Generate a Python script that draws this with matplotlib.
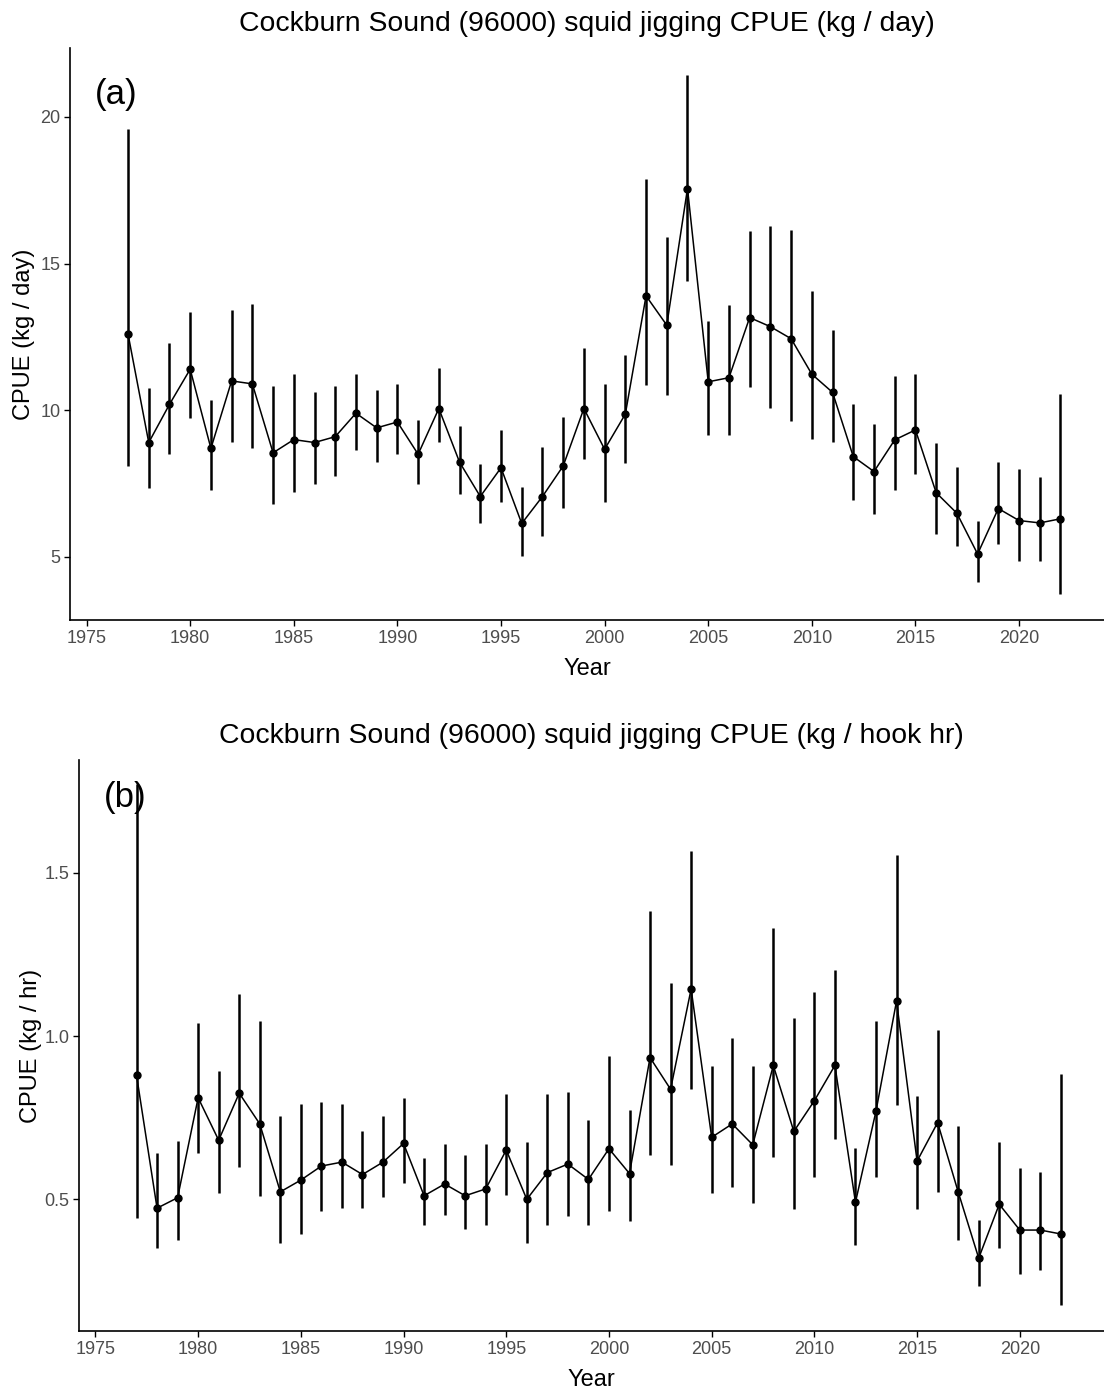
#!/usr/bin/env python3
"""Cockburn Sound squid jigging CPUE, two stacked panels."""

import matplotlib
matplotlib.use('Agg')
import matplotlib.pyplot as plt

plt.rcParams.update({
    'font.family': ['Liberation Sans', 'DejaVu Sans'],
    'font.size': 10,
})

years = list(range(1977, 2023))

# panel (a): kg / day
cpue_day = [12.6, 8.9, 10.2, 11.4, 8.7, 11.0, 10.9, 8.55, 9.0, 8.9, 9.1, 9.9, 9.4, 9.6,
            8.5, 10.06, 8.23, 7.06, 8.04, 6.14, 7.06, 8.1, 10.06, 8.67, 9.87, 13.9, 12.9, 17.56,
            10.97, 11.11, 13.16, 12.85, 12.44, 11.23, 10.61, 8.42, 7.91, 8.99, 9.33, 7.19,
            6.49, 5.1, 6.65, 6.24, 6.16, 6.3]
day_hi = [19.6, 10.76, 12.3, 13.35, 10.34, 13.42, 13.63, 10.82, 11.23, 10.61, 10.82, 11.23, 10.7, 10.89,
          9.66, 11.43, 9.46, 8.16, 9.33, 7.38, 8.76, 9.78, 12.11, 10.89, 11.9, 17.87, 15.89, 21.43,
          13.06, 13.58, 16.1, 16.29, 16.16, 14.05, 12.72, 10.22, 9.52, 11.16, 11.23, 8.89,
          8.08, 6.23, 8.23, 8.01, 7.72, 10.54]
day_lo = [8.1, 7.34, 8.5, 9.73, 7.28, 8.92, 8.71, 6.8, 7.22, 7.47, 7.76, 8.65, 8.23, 8.52,
          7.48, 8.92, 7.15, 6.14, 6.87, 5.03, 5.7, 6.67, 8.35, 6.87, 8.19, 10.85, 10.51, 14.41,
          9.15, 9.15, 10.78, 10.09, 9.62, 9.01, 8.92, 6.94, 6.46, 7.28, 7.82, 5.78,
          5.38, 4.14, 5.44, 4.87, 4.87, 3.73]

# panel (b): kg / hook hr
cpue_hr = [0.88, 0.473, 0.505, 0.811, 0.681, 0.825, 0.731, 0.523, 0.559, 0.602, 0.614, 0.576, 0.614, 0.671,
           0.511, 0.547, 0.511, 0.532, 0.651, 0.5, 0.582, 0.608, 0.561, 0.655, 0.579, 0.934, 0.837, 1.144,
           0.69, 0.731, 0.667, 0.91, 0.708, 0.802, 0.91, 0.491, 0.77, 1.107, 0.617, 0.735,
           0.523, 0.32, 0.485, 0.406, 0.406, 0.394]
hr_hi = [1.77, 0.641, 0.678, 1.039, 0.892, 1.13, 1.045, 0.755, 0.792, 0.799, 0.792, 0.708, 0.755, 0.811,
         0.626, 0.669, 0.637, 0.669, 0.822, 0.675, 0.822, 0.829, 0.743, 0.939, 0.775, 1.383, 1.162, 1.565,
         0.907, 0.995, 0.907, 1.332, 1.056, 1.136, 1.203, 0.657, 1.045, 1.555, 0.817, 1.019,
         0.725, 0.438, 0.675, 0.596, 0.584, 0.884]
hr_lo = [0.444, 0.352, 0.376, 0.641, 0.518, 0.599, 0.511, 0.365, 0.394, 0.464, 0.475, 0.475, 0.506, 0.549,
         0.42, 0.452, 0.408, 0.42, 0.512, 0.365, 0.42, 0.45, 0.42, 0.464, 0.434, 0.637, 0.606, 0.839,
         0.52, 0.538, 0.488, 0.629, 0.469, 0.567, 0.684, 0.359, 0.567, 0.788, 0.469, 0.523,
         0.376, 0.236, 0.352, 0.271, 0.283, 0.176]

x_ticks = [1975, 1980, 1985, 1990, 1995, 2000, 2005, 2010, 2015, 2020]

W, H = 1104, 1389
fig = plt.figure(figsize=(W / 100, H / 100), dpi=100)
fig.patch.set_facecolor('white')


def px_axes(left, top, right, bottom):
    return fig.add_axes([left / W, 1 - bottom / H, (right - left) / W, (bottom - top) / H])


def panel(ax, y, lo, hi, title, ylabel, tag, tag_y, yticks, ylim, tick_fmt, ypad):
    ax.vlines(years, lo, hi, color='black', linewidth=1.8)
    ax.plot(years, y, color='black', linewidth=1.1, marker='o', markersize=5)
    ax.set_xlim(1974.2, 2024.1)
    ax.set_ylim(*ylim)
    ax.set_xticks(x_ticks)
    ax.set_yticks(yticks)
    ax.set_yticklabels([tick_fmt(v) for v in yticks])
    for side in ('top', 'right'):
        ax.spines[side].set_visible(False)
    for side in ('left', 'bottom'):
        ax.spines[side].set_linewidth(1.2)
    ax.tick_params(labelcolor='#4d4d4d', color='black', labelsize=13, length=4, width=1.0, pad=3)
    ax.set_title(title, fontsize=20.4, pad=12)
    ax.set_xlabel('Year', fontsize=17, labelpad=8)
    ax.set_ylabel(ylabel, fontsize=17, labelpad=ypad)
    ax.text(0.024, tag_y, tag, transform=ax.transAxes, fontsize=25, va='center', ha='left')


ax1 = px_axes(70, 48, 1104, 620)
panel(ax1, cpue_day, day_lo, day_hi,
      'Cockburn Sound (96000) squid jigging CPUE (kg / day)', 'CPUE (kg / day)', '(a)', 0.918,
      [5, 10, 15, 20], (2.85, 22.35), lambda v: f'{v:d}', 3.5)

ax2 = px_axes(79, 760, 1104, 1331)
panel(ax2, cpue_hr, hr_lo, hr_hi,
      'Cockburn Sound (96000) squid jigging CPUE (kg / hook hr)', 'CPUE (kg / hr)', '(b)', 0.935,
      [0.5, 1.0, 1.5], (0.097, 1.845), lambda v: f'{v:.1f}', 1.5)

fig.savefig('out.png', dpi=100)
